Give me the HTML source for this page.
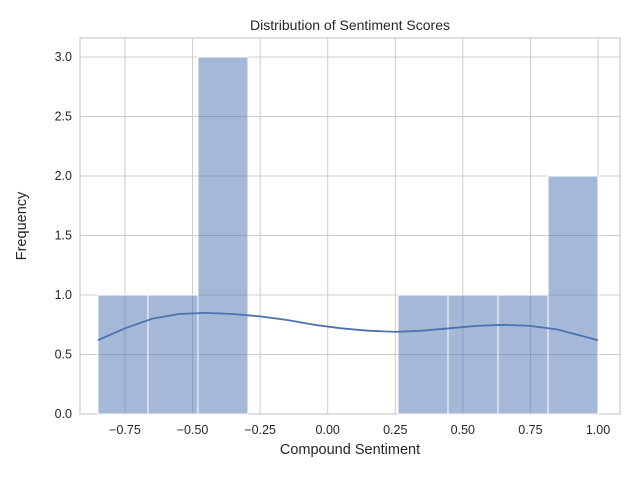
<!DOCTYPE html>
<html><head><meta charset="utf-8"><style>
body{margin:0;background:#fff;}
svg{display:block;font-family:"Liberation Sans","DejaVu Sans",sans-serif;}
</style></head><body>
<svg id="chart" width="640" height="480"></svg>
<script>
const binEdges=[-0.85,-0.665,-0.48,-0.295,-0.11,0.075,0.26,0.445,0.63,0.815,1.0];
const counts=[1,1,3,0,0,0,1,1,1,2];
const kdeX=[-0.85,-0.75,-0.65,-0.55,-0.45,-0.35,-0.25,-0.15,-0.05,0.05,0.15,0.25,0.35,0.45,0.55,0.65,0.75,0.85,0.95,1.0];
const kdeY=[0.62,0.72,0.80,0.84,0.85,0.84,0.82,0.79,0.75,0.72,0.70,0.69,0.70,0.72,0.74,0.75,0.74,0.71,0.65,0.62];
const xTicks=[-0.75,-0.5,-0.25,0,0.25,0.5,0.75,1.0];
const xTickLabels=["−0.75","−0.50","−0.25","0.00","0.25","0.50","0.75","1.00"];
const yTicks=[0,0.5,1,1.5,2,2.5,3];
const yTickLabels=["0.0","0.5","1.0","1.5","2.0","2.5","3.0"];

const L=80,R=620,T=38,B=414;
const sx=v=>327.7+v*270.3;
const sy=v=>414-v*119;
const svg=document.getElementById('chart');
const NS="http://www.w3.org/2000/svg";
function mk(tag,attrs,parent){const e=document.createElementNS(NS,tag);for(const k in attrs)e.setAttribute(k,attrs[k]);(parent||svg).appendChild(e);return e;}

const frame=mk('rect',{x:L,y:T,width:R-L,height:B-T,fill:'#fff',stroke:'#cccccc','stroke-width':1.25});



xTicks.forEach((t,i)=>{
  const g=mk('line',{x1:sx(t),x2:sx(t),y1:T,y2:B,stroke:'#cccccc','stroke-width':1});
  
  
  const tx=mk('text',{x:sx(t),y:B+20,'text-anchor':'middle','font-size':12.5,fill:'#262626'});
  tx.textContent=xTickLabels[i];
  
  
});
yTicks.forEach((t,i)=>{
  const g=mk('line',{x1:L,x2:R,y1:sy(t),y2:sy(t),stroke:'#cccccc','stroke-width':1});
  
  
  const tx=mk('text',{x:L-8,y:sy(t)+4,'text-anchor':'end','font-size':12.5,fill:'#262626'});
  tx.textContent=yTickLabels[i];
  
  
});

counts.forEach((c,i)=>{
  if(c<=0)return;
  const x0=sx(binEdges[i]),x1=sx(binEdges[i+1]);
  const r=mk('rect',{x:x0,y:sy(c),width:x1-x0,height:sy(0)-sy(c),fill:'rgba(76,114,176,0.5)',stroke:'#fff','stroke-width':1});
  
  
});

const d=kdeX.map((x,i)=>(i?'L':'M')+sx(x).toFixed(1)+','+sy(kdeY[i]).toFixed(1)).join(' ');
const p=mk('path',{d:d,fill:'none',stroke:'#4c72b0','stroke-width':1.8,'stroke-linejoin':'round'});



const title=mk('text',{x:350,y:30,'text-anchor':'middle','font-size':14,fill:'#262626'});
title.textContent='Distribution of Sentiment Scores';


const xl=mk('text',{x:350,y:454,'text-anchor':'middle','font-size':14.5,fill:'#262626'});
xl.textContent='Compound Sentiment';


const yl=mk('text',{x:26,y:226,'text-anchor':'middle','font-size':14.5,fill:'#262626',transform:'rotate(-90 26 226)'});
yl.textContent='Frequency';


</script>
</body></html>
